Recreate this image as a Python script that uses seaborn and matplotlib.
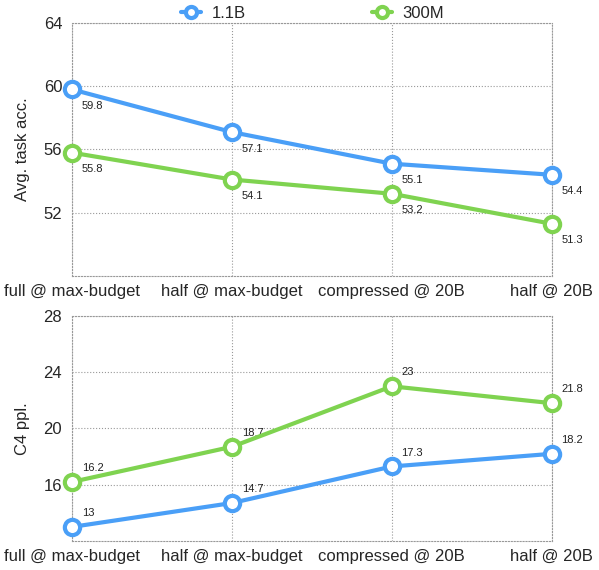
import numpy as np
import pandas as pd
import seaborn as sns
import matplotlib.pyplot as plt
from matplotlib.lines import Line2D

# data
settings = ["full @ max-budget", "half @ max-budget", "compressed @ 20B", "half @ 20B"]
models = ["1.1B", "300M"]
acc_1b = [59.8, 57.1, 55.1, 54.4]
acc_300m = [55.8, 54.1, 53.2, 51.3]
ppl_1b = [13, 14.7, 17.3, 18.2]
ppl_300m = [16.2, 18.7, 23, 21.8]

colors = {"1.1B": "#4a9ff7", "300M": "#7fd350"}

idx = list(range(len(settings)))
df = pd.DataFrame({
    "pos": idx * 4,
    "model": ["1.1B"] * 4 + ["300M"] * 4 + ["1.1B"] * 4 + ["300M"] * 4,
    "metric": ["acc"] * 8 + ["ppl"] * 8,
    "value": acc_1b + acc_300m + ppl_1b + ppl_300m,
})

sns.set_style("white")
plt.rcParams["font.family"] = ["Liberation Sans", "DejaVu Sans"]

fig = plt.figure(figsize=(5.99, 5.70), dpi=100)
ax1 = fig.add_axes([0.120, 0.5158, 0.8013, 0.4439])
ax2 = fig.add_axes([0.120, 0.0509, 0.8013, 0.3947])


def draw(ax, metric, ylim, yticks, ylabel, dy):
    d = df[df.metric == metric]
    sns.lineplot(data=d, x="pos", y="value", hue="model", hue_order=models,
                 palette=colors, ax=ax, linewidth=3, marker="o", markersize=11,
                 markerfacecolor="white", markeredgewidth=3, legend=False)
    for ln in ax.lines:
        ln.set_markeredgecolor(ln.get_color())
        ln.set_clip_on(False)
        ln.set_zorder(5)
    for m in models:
        dm = d[d.model == m]
        for x, v in zip(dm.pos, dm.value):
            ax.annotate(f"{v:g}", (x, v), xytext=(7, dy), textcoords="offset points",
                        fontsize=8, color="#222222", ha="left", va="center")
    ax.set_xlim(0, 3)
    ax.set_ylim(*ylim)
    ax.set_yticks(yticks)
    ax.set_xticks(idx)
    ax.set_xticklabels(settings, fontsize=12)
    ax.tick_params(axis="y", labelsize=12, length=0, pad=7)
    ax.tick_params(axis="x", length=0, pad=6)
    ax.set_xlabel("")
    ax.set_ylabel(ylabel, fontsize=12, labelpad=10)
    ax.grid(True, linestyle=":", color="#999999", linewidth=0.8)
    for s in ax.spines.values():
        s.set_linestyle(":")
        s.set_color("#999999")
        s.set_linewidth(0.8)


draw(ax1, "acc", (48, 64), [52, 56, 60, 64], "Avg. task acc.", -12)
draw(ax2, "ppl", (12, 28), [16, 20, 24, 28], "C4 ppl.", 10)

handles = [Line2D([0], [0], color=colors[m], lw=3, marker="o", markersize=8,
                  markerfacecolor="white", markeredgewidth=3) for m in models]
fig.legend(handles, models, loc="center", bbox_to_anchor=(0.522, 0.977), ncol=2,
           frameon=False, fontsize=12, handlelength=1.2, columnspacing=7.6,
           handletextpad=0.6)

fig.savefig("out.png", dpi=100)
